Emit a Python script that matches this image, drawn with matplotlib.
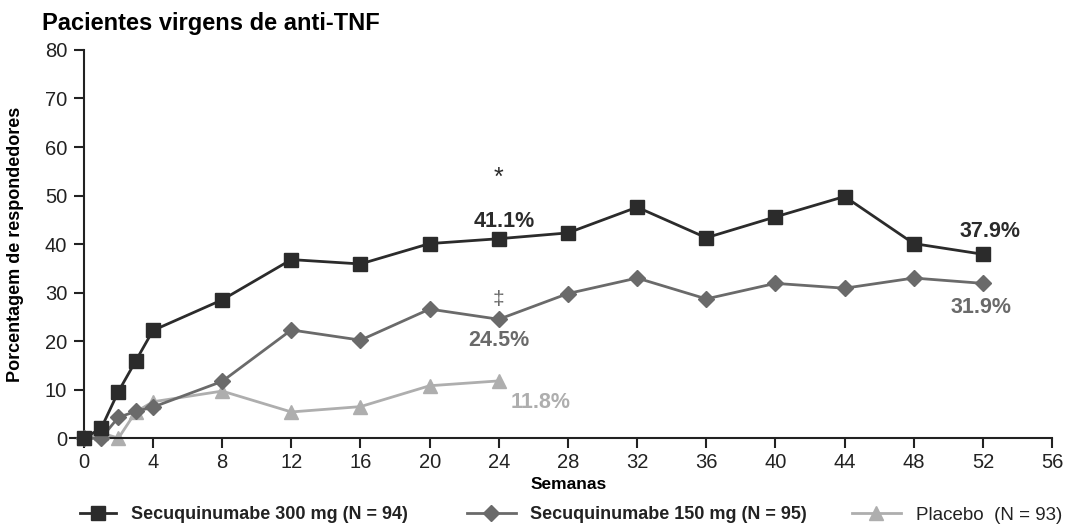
import matplotlib.pyplot as plt

plt.rcParams['font.family'] = ['Liberation Sans', 'DejaVu Sans']

# dados
semanas = [0, 1, 2, 3, 4, 8, 12, 16, 20, 24, 28, 32, 36, 40, 44, 48, 52]
sec_300 = [0, 2.0, 9.6, 15.9, 22.2, 28.5, 36.8, 35.9, 40.1, 41.1, 42.3, 47.6, 41.3, 45.6, 49.8, 40.1, 37.9]
sec_150 = [0, 0, 4.3, 5.5, 6.4, 11.7, 22.3, 20.2, 26.6, 24.5, 29.8, 33.0, 28.7, 31.9, 30.9, 33.0, 31.9]
semanas_placebo = [0, 1, 2, 3, 4, 8, 12, 16, 20, 24]
placebo = [0, 1.1, 0, 5.4, 7.5, 9.7, 5.4, 6.5, 10.8, 11.8]

rotulos = ['Secuquinumabe 300 mg (N = 94)', 'Secuquinumabe 150 mg (N = 95)', 'Placebo  (N = 93)']
xticks = list(range(0, 57, 4))
yticks = list(range(0, 81, 10))

c300 = '#2b2b2b'
c150 = '#6a6a6a'
cpla = '#aeaeae'

fig = plt.figure(figsize=(10.67, 5.26), dpi=100)
ax = fig.add_axes([0.0656, 0.167, 0.9204, 0.738])

l3, = ax.plot(semanas_placebo, placebo, color=cpla, lw=2, marker='^', ms=10,
              clip_on=False, zorder=2)
l2, = ax.plot(semanas, sec_150, color=c150, lw=2, marker='D', ms=8.5,
              clip_on=False, zorder=3)
l1, = ax.plot(semanas, sec_300, color=c300, lw=2, marker='s', ms=9.5,
              clip_on=False, zorder=4)

ax.set_xlim(-0.8, 56)
ax.set_ylim(0, 80)
ax.spines['left'].set_position(('data', 0))
ax.spines['top'].set_visible(False)
ax.spines['right'].set_visible(False)
for s in ('left', 'bottom'):
    ax.spines[s].set_linewidth(1.5)
    ax.spines[s].set_color('#222222')
ax.set_xticks(xticks)
ax.set_yticks(yticks)
ax.tick_params(axis='both', length=7, width=1.5, color='#222222',
               labelsize=14.5, labelcolor='#222222')
ax.tick_params(axis='x', pad=4)
ax.tick_params(axis='y', pad=5)

ax.set_xlabel('Semanas', fontsize=12.5, fontweight='bold')
ax.xaxis.set_label_coords(0.508, -0.1)
ax.set_ylabel('Porcentagem de respondedores', fontsize=13, fontweight='bold')
ax.yaxis.set_label_coords(-0.047, 0.5)

fig.text(0.039, 0.956, 'Pacientes virgens de anti-TNF', fontsize=17, fontweight='bold',
         ha='left', va='center')

# anotações
ax.text(24, 53.6, '*', ha='center', va='center', fontsize=18, color=c300)
ax.text(24.3, 44.6, '41.1%', ha='center', va='center', fontsize=15.5, fontweight='bold', color=c300)
ax.text(52.4, 42.6, '37.9%', ha='center', va='center', fontsize=15.5, fontweight='bold', color=c300)
ax.text(24, 28.6, '‡', ha='center', va='center', fontsize=15, color=c150)
ax.text(24, 20.2, '24.5%', ha='center', va='center', fontsize=15.5, fontweight='bold', color=c150)
ax.text(51.9, 27.0, '31.9%', ha='center', va='center', fontsize=15.5, fontweight='bold', color=c150)
ax.text(26.4, 7.3, '11.8%', ha='center', va='center', fontsize=15.5, fontweight='bold', color=cpla)

# legenda: uma entrada por posição
entradas = [(l1, rotulos[0], 80, 2.0, 'bold', 13),
            (l2, rotulos[1], 467, 2.7, 'bold', 13),
            (l3, rotulos[2], 852, 2.6, 'normal', 13.5)]
for h, txt, xpx, hl, peso, tam in entradas:
    leg = fig.legend(handles=[h], labels=[txt], loc='center left',
                     bbox_to_anchor=(xpx / 1067, 0.021), frameon=False,
                     fontsize=tam, handlelength=hl, handletextpad=0.8,
                     borderpad=0, borderaxespad=0)
    t = leg.get_texts()[0]
    t.set_fontweight(peso)
    t.set_color('#222222')

fig.savefig('out.png', dpi=100, facecolor='white')
